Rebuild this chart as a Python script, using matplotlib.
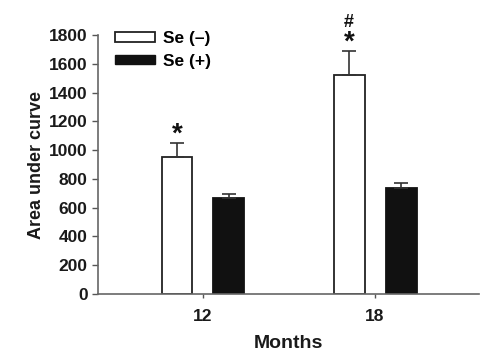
import numpy as np
import matplotlib
matplotlib.use('Agg')
import matplotlib.pyplot as plt
from matplotlib.patches import Patch

plt.rcParams['font.family'] = ['Liberation Sans', 'DejaVu Sans']
plt.rcParams['font.weight'] = 'bold'

months = ['12', '18']
se_minus = [950, 1520]
se_minus_err = [100, 170]
se_plus = [665, 740]
se_plus_err = [30, 30]
marks = ['*', '*']
extra_marks = ['', '#']

fig = plt.figure(figsize=(4.95, 3.54), dpi=100)
ax = fig.add_axes([0.198, 0.1695, 0.770, 0.7315])

x = np.arange(len(months))
w, off = 0.18, 0.151
ax.bar(x - off, se_minus, w, yerr=[np.zeros(2), se_minus_err], color='white', edgecolor='#222222',
       linewidth=1.3, error_kw=dict(ecolor='#333333', elinewidth=1.2, capsize=5, capthick=1.2), label='Se (\u2013)')
ax.bar(x + off, se_plus, w, yerr=[np.zeros(2), se_plus_err], color='#111111', edgecolor='#111111',
       linewidth=1.3, error_kw=dict(ecolor='#333333', elinewidth=1.2, capsize=5, capthick=1.2), label='Se (+)')

for i in range(len(months)):
    top = se_minus[i] + se_minus_err[i]
    ax.text(x[i] - off, top + 55, marks[i], ha='center', va='center', fontsize=20, color='#111111')
    if extra_marks[i]:
        ax.text(x[i] - off, top + 200, extra_marks[i], ha='center', va='center', fontsize=13, color='#111111')

ax.set_xlim(-0.61, 1.605)
ax.set_ylim(0, 1800)
ax.set_yticks(np.arange(0, 1801, 200))
ax.set_xticks(x)
ax.set_xticklabels(months)
ax.tick_params(axis='both', labelsize=12.5, labelcolor='#1a1a1a', color='#555555', width=1)
ax.tick_params(axis='x', length=3, pad=8)
ax.tick_params(axis='y', length=4)
for s in ['top', 'right']:
    ax.spines[s].set_visible(False)
for s in ['left', 'bottom']:
    ax.spines[s].set_color('#666666')
    ax.spines[s].set_linewidth(1.2)

ax.set_xlabel('Months', fontsize=14, fontweight='bold', labelpad=8, color='#1a1a1a')
ax.set_ylabel('Area under curve', fontsize=13, fontweight='bold', labelpad=3, color='#1a1a1a')

handles = [Patch(facecolor='white', edgecolor='#222222', linewidth=1.3),
           Patch(facecolor='#111111', edgecolor='#111111')]
ax.legend(handles, ['Se (\u2013)', 'Se (+)'], loc='upper left', bbox_to_anchor=(0.045, 1.015),
          frameon=False, fontsize=12.5, handlelength=2.3, handleheight=0.45, labelspacing=0.45,
          handletextpad=0.45, borderpad=0, borderaxespad=0)

fig.savefig('out.png', dpi=100)
